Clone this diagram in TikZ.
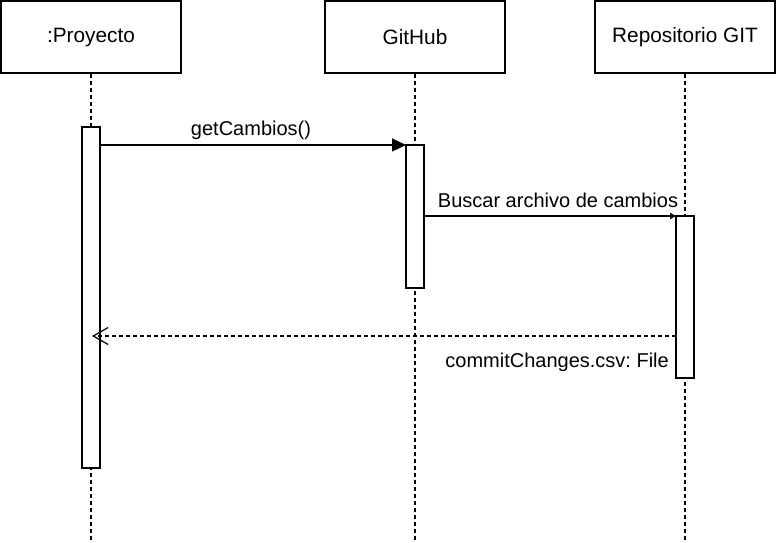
\documentclass[tikz,border=0pt]{standalone}
\usepackage{fontspec}
\setmainfont{Liberation Sans}
\usetikzlibrary{arrows.meta}
\frenchspacing
\begin{document}
\begin{tikzpicture}[x=1pt,y=-1pt,
  lw/.style={line width=1.2pt},
  objbox/.style={draw,lw,fill=white,minimum width=180pt,minimum height=72pt,inner sep=0pt,font=\fontsize{20.8}{23}\selectfont},
  lifeline/.style={lw,dash pattern=on 4pt off 3pt},
  actbar/.style={draw,lw,fill=white,minimum width=18pt,inner sep=0pt},
  lbl/.style={font=\fontsize{20}{22}\selectfont,inner sep=0pt}]
\useasboundingbox (0,0) rectangle (776,542);
% boxes
\node[objbox] (p) at (91,37) {:Proyecto};
\node[objbox] (g) at (415,37) {GitHub};
\node[objbox] (r) at (685,37) {Repositorio GIT};
% lifeline ends
\coordinate (pe) at (91,542);
\coordinate (ge) at (415,542);
\coordinate (re) at (685,542);
\draw[lifeline] (p.south) -- (pe);
\draw[lifeline] (g.south) -- (ge);
\draw[lifeline] (r.south) -- (re);
% activation bars
\node[actbar,minimum height=341pt] (pa) at (91,297.5) {};
\node[actbar,minimum height=143pt] (ga) at (415,216.5) {};
\node[actbar,minimum height=162pt] (ra) at (685,297) {};
% messages
\coordinate (m1s) at (100,145);
\coordinate (m1e) at (406,145);
\draw[lw,-{Triangle[length=14pt,width=13pt]}] (m1s) -- (m1e);
\node[lbl] (l1) at (251,130) {getCambios()};
\coordinate (m2s) at (424,216);
\coordinate (m2e) at (676,216);
\draw[lw,-{Triangle[length=6pt,width=6pt]}] (m2s) -- (m2e);
\node[lbl] (l2) at (558,200) {Buscar archivo de cambios};
\coordinate (m3s) at (676,336);
\coordinate (m3e) at (92,336);
\draw[lw,dash pattern=on 4pt off 3pt,-{Straight Barb[length=15pt,width=17pt]}] (m3s) -- (m3e);
\node[lbl,anchor=east] (l3) at (669,362) {commitChanges.csv: File};
\end{tikzpicture}
\end{document}
